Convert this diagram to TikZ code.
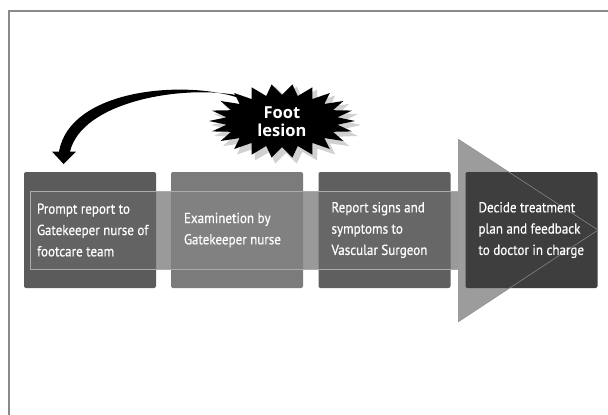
\documentclass[tikz,border=0pt]{standalone}
\usepackage{fontspec}
\setmainfont[FakeStretch=0.9, FakeBold=0.5]{PT Sans}
\newfontfamily\starfont{Open Sans}
\definecolor{boxA}{HTML}{5B5B5B}
\definecolor{boxB}{HTML}{7B7B7B}
\definecolor{boxC}{HTML}{5F5F5F}
\definecolor{boxD}{HTML}{3E3E3E}
\definecolor{bandc}{HTML}{959595}
\definecolor{bandline}{HTML}{ABABAB}
\definecolor{arrowc}{HTML}{9C9C9C}
\definecolor{arrowline}{HTML}{8E8E8E}
\definecolor{framec}{HTML}{8A8A8A}
\begin{document}
\begin{tikzpicture}[x=1pt,y=-1pt,
  stepbox/.style={rectangle, rounded corners=2pt, minimum width=132pt, minimum height=116pt, inner sep=0pt},
  boxtext/.style={anchor=west, align=left, text=white, inner sep=0pt, font=\fontsize{14.5}{21.3}\selectfont},
  startext/.style={align=center, text=white, inner sep=0pt, font=\starfont\bfseries\fontsize{16.5}{18}\selectfont}]
\useasboundingbox (0,0) rectangle (608,415);
\fill[white] (0,0) rectangle (608,415);
% frame
\draw[framec, line width=2pt] (8.5,416) -- (8.5,10.5) -- (609,10.5);
% band and arrow head
\fill[bandc] (30,191) rectangle (458,269);
\fill[arrowc] (458,139) -- (598,230) -- (458,322) -- cycle;
% boxes
\node[stepbox, fill=boxA] (b1) at (90,230) {};
\node[stepbox, fill=boxB] (b2) at (237,230) {};
\node[stepbox, fill=boxC] (b3) at (384.5,230) {};
\node[stepbox, fill=boxD] (b4) at (531.5,230) {};
% band overlay on boxes
\fill[white, opacity=0.05] (30,191) rectangle (458,269);
\draw[bandline, line width=0.6pt] (458,191) -- (30,191) -- (30,269) -- (458,269);
\draw[arrowline, line width=0.5pt] (458,139) -- (598,230) -- (458,322);
% texts
\node[boxtext] (t1) at ([xshift=13pt]b1.west) {Prompt report to\\Gatekeeper nurse of\\footcare team};
\node[boxtext] (t2) at ([xshift=13pt]b2.west) {Examinetion by\\Gatekeeper nurse};
\node[boxtext] (t3) at ([xshift=13pt]b3.west) {Report signs and\\symptoms to\\Vascular Surgeon};
\node[boxtext] (t4) at ([xshift=13pt]b4.west) {Decide treatment\\plan and feedback\\to doctor in charge};
% curved tapered arrow from the star to box 1
\coordinate (astart) at (236,97);
\coordinate (aend) at (63.5,164);
\fill[black] (astart) .. controls (180,80) and (70,90) .. (59,151.5)
  -- (52,151.5) -- (aend) -- (76,151.5) -- (70,151.5)
  .. controls (82,102) and (180,85) .. ([yshift=2pt]astart) -- cycle;
% star burst
\begin{scope}[shift={(286,125)}]
  \fill[black, opacity=0.18] (0:75 and 39) \foreach \i [evaluate=\i as \rx using {ifthenelse(mod(\i,2)==0,75,58)}, evaluate=\i as \ry using {ifthenelse(mod(\i,2)==0,39,28)}] in {1,...,43} { -- ({\i*360/44}:{\rx} and {\ry}) } -- cycle;
\end{scope}
\begin{scope}[shift={(282,121)}]
  \fill[black] (0:73 and 37) \foreach \i [evaluate=\i as \rx using {ifthenelse(mod(\i,2)==0,73,56)}, evaluate=\i as \ry using {ifthenelse(mod(\i,2)==0,37,26)}] in {1,...,43} { -- ({\i*360/44}:{\rx} and {\ry}) } -- cycle;
\end{scope}
\node[startext] (star) at (282,122) {Foot\\lesion};
\end{tikzpicture}
\end{document}
